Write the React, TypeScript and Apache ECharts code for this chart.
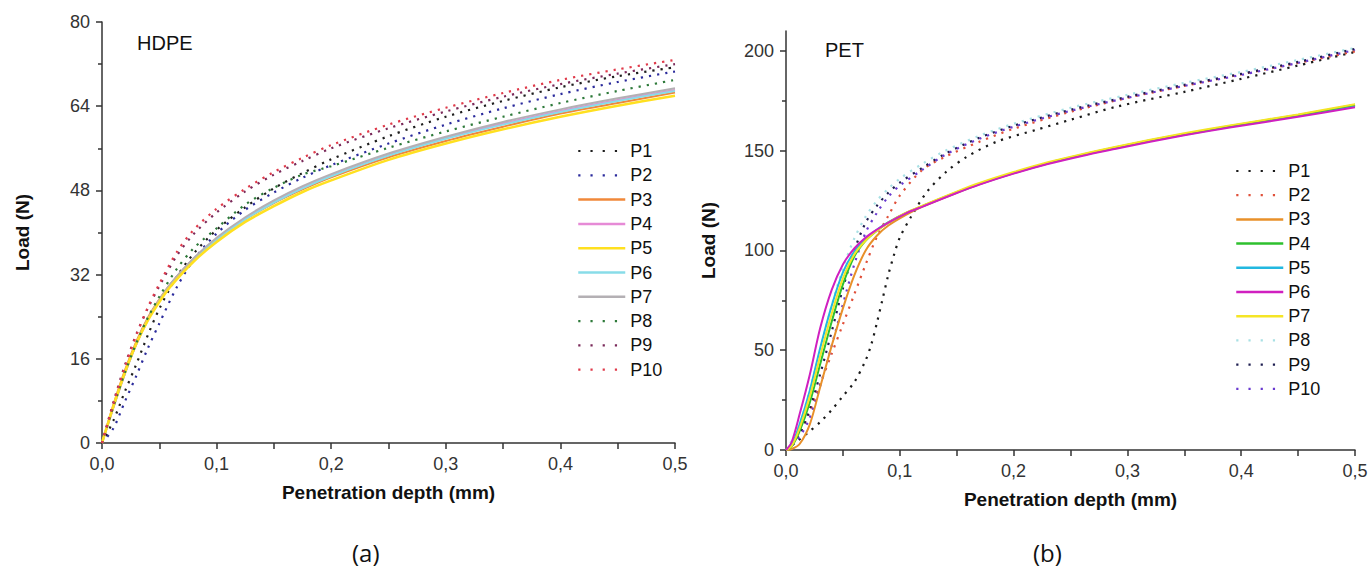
import React, { useEffect, useRef } from 'react';
import * as echarts from 'echarts';

// ---------- HDPE (a) ----------
const hdpeXSolid = [0, 0.01, 0.02, 0.03, 0.04, 0.05, 0.06, 0.08, 0.1, 0.125, 0.15, 0.175, 0.2, 0.25, 0.3, 0.35, 0.4, 0.45, 0.5];
const hdpeXDot = [0, 0.01, 0.02, 0.03, 0.04, 0.05, 0.065, 0.08, 0.1, 0.125, 0.15, 0.175, 0.2, 0.25, 0.3, 0.35, 0.4, 0.45, 0.5];
const hdpeP1 = [0, 4.3, 9.8, 15, 20.5, 25.5, 31.5, 36, 40.5, 44.8, 48.4, 51.3, 53.9, 58.3, 62, 65, 67.6, 69.7, 71.4];
const hdpeP2 = [0, 2.8, 7.9, 12.8, 18, 22.7, 29.5, 34.8, 39.8, 44.3, 47.6, 50.4, 52.8, 56.9, 60.5, 63.6, 66.3, 68.6, 70.6];
const hdpeP3 = [0, 7.3, 13.8, 19.3, 23.8, 27.3, 30.3, 35, 38.7, 42.5, 45.6, 48.2, 50.5, 54.3, 57.4, 60.1, 62.6, 64.6, 66.6];
const hdpeP4 = [0, 6.8, 13.2, 18.8, 23.4, 27, 30.2, 35, 38.8, 42.6, 45.8, 48.5, 50.8, 54.7, 57.9, 60.7, 63.1, 65.2, 67.1];
const hdpeP5 = [0, 7, 13.4, 18.9, 23.3, 26.8, 29.8, 34.5, 38.2, 42, 45, 47.7, 49.9, 53.8, 56.9, 59.6, 62, 64.1, 66];
const hdpeP6 = [0, 6.9, 13.3, 18.9, 23.5, 27.1, 30.2, 34.9, 38.7, 42.5, 45.7, 48.4, 50.7, 54.6, 57.8, 60.5, 62.9, 65, 66.9];
const hdpeP7 = [0, 6.8, 13.2, 18.8, 23.4, 27.1, 30.3, 35.1, 39, 42.9, 46.1, 48.8, 51.1, 55, 58.2, 61, 63.4, 65.5, 67.4];
const hdpeP8 = [0, 7, 13.4, 19, 23.8, 27.8, 33, 37, 40.8, 45.3, 48.5, 51, 52.6, 56.1, 59.2, 62, 64.6, 66.9, 69];
const hdpeP9 = [0, 7.8, 14.8, 20.7, 25.6, 29.8, 35.5, 39.7, 43.8, 47.8, 51, 53.6, 56, 59.8, 63, 65.8, 68.2, 70.2, 72.0];
const hdpeP10 = [0, 7.5, 14.5, 20.5, 25.8, 30.2, 36.2, 40.5, 44.5, 48.3, 51.5, 54.2, 56.6, 60.5, 63.7, 66.5, 69, 71, 72.8];

// ---------- PET (b) ----------
const petXSolid = [0, 0.005, 0.012, 0.021, 0.03, 0.04, 0.05, 0.06, 0.07, 0.08, 0.09, 0.105, 0.12, 0.15, 0.17, 0.2, 0.23, 0.26, 0.29, 0.32, 0.35, 0.39, 0.45, 0.5];
const petP3 = [0, 0.5, 3, 13, 31.5, 52, 71, 87.5, 100, 107.5, 112.5, 117.7, 122, 128.9, 133.2, 138.7, 143.6, 147.7, 151.4, 154.9, 158.1, 162.1, 167.6, 172.8];
const petP4 = [0, 1.8, 9.5, 24, 43, 64, 83, 97, 105, 110, 114, 118.6, 122.3, 129.2, 133.5, 139, 143.9, 148, 151.7, 155.2, 158.4, 162.4, 167.9, 173];
const petP5 = [0, 2.5, 13, 30, 51, 72, 89, 99.5, 106, 110.5, 114.2, 118.7, 122.2, 129, 133.3, 138.8, 143.6, 147.7, 151.3, 154.8, 158, 162, 167.4, 172.4];
const petP6 = [0, 4, 18, 38, 61, 80, 93, 101, 106.5, 110.5, 114, 118.5, 122, 128.8, 133, 138.5, 143.3, 147.4, 151, 154.5, 157.7, 161.6, 167, 171.8];
const petP7 = [0, 2, 11, 27, 47, 68, 86, 98, 105, 110, 114, 118.8, 122.5, 129.5, 133.8, 139.3, 144.2, 148.3, 152, 155.5, 158.7, 162.7, 168.2, 173.3];
const petXDot = [0, 0.01, 0.02, 0.03, 0.04, 0.05, 0.06, 0.07, 0.08, 0.09, 0.1, 0.12, 0.14, 0.17, 0.2, 0.25, 0.3, 0.35, 0.4, 0.45, 0.5];
const petP2 = [0, 6, 18, 33, 48, 63, 78, 93, 107, 117.5, 127.5, 140.5, 147, 154.5, 161, 169.5, 176.5, 182.5, 188.3, 194, 199.8];
const petP8 = [0, 10, 28, 50, 72, 91, 106, 117, 125, 131, 136, 143.5, 150, 157.5, 163.5, 171.5, 178, 184, 189.5, 195.5, 201.5];
const petP9 = [0, 6, 19, 38, 59, 81, 100, 114, 122.5, 129, 134, 141.5, 148.5, 156.5, 162.5, 170.5, 177, 183, 188.5, 194.5, 201];
const petP10 = [0, 5, 15, 32, 52, 73, 93, 109, 119, 127, 132.5, 140.5, 148, 156, 162, 170, 176.5, 182.5, 188, 194, 200.5];
const petXP1 = [0, 0.01, 0.02, 0.03, 0.04, 0.05, 0.06, 0.07, 0.075, 0.08, 0.085, 0.09, 0.095, 0.1, 0.11, 0.124, 0.141, 0.159, 0.185, 0.22, 0.25, 0.29, 0.35, 0.4, 0.45, 0.5];
const petP1 = [0, 4.5, 9, 14, 20, 27, 34, 45, 53, 64, 76, 88, 98, 106.5, 117, 129.5, 139.5, 147, 154.5, 160.5, 165.5, 172, 179.5, 186, 192.7, 199.5];
const petYTicks = [0, 50, 100, 150, 200];
const petYMinor = [25, 75, 125, 175];

const names = ['P1', 'P2', 'P3', 'P4', 'P5', 'P6', 'P7', 'P8', 'P9', 'P10'];

type Spec = { name: string; xs: number[]; ys: number[]; color: string; dotted: boolean; width?: number };

const hdpeSpecs: Spec[] = [
  { name: 'P1', xs: hdpeXDot, ys: hdpeP1, color: '#1e1e1e', dotted: true },
  { name: 'P2', xs: hdpeXDot, ys: hdpeP2, color: '#2b2b9c', dotted: true },
  { name: 'P3', xs: hdpeXSolid, ys: hdpeP3, color: '#f0883a', dotted: false },
  { name: 'P4', xs: hdpeXSolid, ys: hdpeP4, color: '#e68ad6', dotted: false },
  { name: 'P6', xs: hdpeXSolid, ys: hdpeP6, color: '#88dce8', dotted: false },
  { name: 'P7', xs: hdpeXSolid, ys: hdpeP7, color: '#b4b0b4', dotted: false },
  { name: 'P5', xs: hdpeXSolid, ys: hdpeP5, color: '#ffe020', dotted: false, width: 2.6 },
  { name: 'P8', xs: hdpeXDot, ys: hdpeP8, color: '#2e7a3a', dotted: true },
  { name: 'P9', xs: hdpeXDot, ys: hdpeP9, color: '#7a2a5a', dotted: true },
  { name: 'P10', xs: hdpeXDot, ys: hdpeP10, color: '#e03a4a', dotted: true },
];

const petSpecs: Spec[] = [
  { name: 'P1', xs: petXP1, ys: petP1, color: '#1a1a1a', dotted: true },
  { name: 'P2', xs: petXDot, ys: petP2, color: '#e0503a', dotted: true },
  { name: 'P8', xs: petXDot, ys: petP8, color: '#a8e0e4', dotted: true },
  { name: 'P9', xs: petXDot, ys: petP9, color: '#1e1e50', dotted: true },
  { name: 'P10', xs: petXDot, ys: petP10, color: '#6a3ad0', dotted: true },
  { name: 'P3', xs: petXSolid, ys: petP3, color: '#e8902a', dotted: false },
  { name: 'P5', xs: petXSolid, ys: petP5, color: '#22b8e0', dotted: false },
  { name: 'P4', xs: petXSolid, ys: petP4, color: '#2ec02e', dotted: false },
  { name: 'P7', xs: petXSolid, ys: petP7, color: '#f5e526', dotted: false },
  { name: 'P6', xs: petXSolid, ys: petP6, color: '#d020c0', dotted: false },
];

const FONT = "'Liberation Sans', Arial, sans-serif";
const AX = '#333';

function buildSeries(specs: Spec[]) {
  return specs.map((s) => ({
    type: 'line',
    name: s.name,
    data: s.xs.map((x, i) => [x, s.ys[i]]),
    symbol: 'none',
    smooth: 0.3,
    lineStyle: s.dotted
      ? { color: s.color, width: 2.2, type: [2.2, 6], cap: 'butt' }
      : { color: s.color, width: s.width ?? 2, type: 'solid' },
    itemStyle: { color: s.color },
  }));
}

const hiddenSymbol = { color: 'rgba(0,0,0,0)', borderColor: 'rgba(0,0,0,0)', borderWidth: 0, opacity: 0 };

function legendData(specs: Spec[]) {
  return names.map((n) => {
    const s = specs.find((p) => p.name === n)!;
    return s.dotted
      ? { name: n, itemStyle: hiddenSymbol, lineStyle: { type: [2.2, 10], width: 2.2, color: s.color, opacity: 1 } }
      : { name: n, itemStyle: hiddenSymbol, lineStyle: { type: 'solid', width: 2.5, color: s.color, opacity: 1 } };
  });
}

const fmtX = (v: number) => v.toFixed(1).replace('.', ',');

function xAxisOpt() {
  return {
    type: 'value',
    min: 0,
    max: 0.5,
    interval: 0.1,
    axisLine: { show: true, onZero: false, lineStyle: { color: AX, width: 1.5 } },
    axisTick: { show: true, length: 6, lineStyle: { color: AX, width: 1.5 } },
    minorTick: { show: true, splitNumber: 2, length: 6, lineStyle: { color: AX, width: 1.5 } },
    splitLine: { show: false },
    minorSplitLine: { show: false },
    axisLabel: { formatter: fmtX, fontSize: 18, color: AX, margin: 12, fontFamily: FONT },
    name: 'Penetration depth (mm)',
    nameLocation: 'middle',
    nameGap: 40,
    nameTextStyle: { fontWeight: 'bold', fontSize: 19, color: '#111', fontFamily: FONT },
  };
}

function Chart({ option, style }: { option: any; style: React.CSSProperties }) {
  const ref = useRef<HTMLDivElement>(null);
  useEffect(() => {
    if (!ref.current) return;
    const chart = echarts.init(ref.current, undefined, { renderer: 'svg' });
    chart.setOption(option);
    return () => chart.dispose();
  }, [option]);
  return <div ref={ref} style={style} />;
}

const hdpeOption = {
  animation: false,
  backgroundColor: 'transparent',
  grid: { left: 102, right: 25, top: 22, bottom: 127, containLabel: false, outerBoundsMode: 'none' },
  xAxis: xAxisOpt(),
  yAxis: {
    type: 'value',
    min: 0,
    max: 80,
    interval: 16,
    axisLine: { show: true, lineStyle: { color: AX, width: 1.5 } },
    axisTick: { show: true, length: 6, lineStyle: { color: AX, width: 1.5 } },
    minorTick: { show: true, splitNumber: 2, length: 4, lineStyle: { color: AX, width: 1.5 } },
    splitLine: { show: false },
    minorSplitLine: { show: false },
    axisLabel: { fontSize: 18, color: AX, margin: 12, fontFamily: FONT },
    name: 'Load (N)',
    nameLocation: 'middle',
    nameGap: 70,
    nameTextStyle: { fontWeight: 'bold', fontSize: 19, color: '#111', fontFamily: FONT },
  },
  legend: {
    orient: 'vertical',
    left: 572,
    top: 137,
    itemWidth: 47,
    itemHeight: 12,
    itemGap: 6.3,
    selectedMode: false,
    data: legendData(hdpeSpecs),
    textStyle: { fontSize: 18, color: '#111', fontFamily: FONT, lineHeight: 18 },
  },
  graphic: [
    { type: 'text', left: 137, top: 33, style: { text: 'HDPE', fontSize: 20, fill: '#111', fontFamily: FONT } },
    { type: 'text', left: 352, top: 540, style: { text: '(a)', fontSize: 24, fill: '#111', fontFamily: "'Open Sans', sans-serif" } },
  ],
  series: buildSeries(hdpeSpecs),
};

const petOption = {
  animation: false,
  backgroundColor: 'transparent',
  grid: { left: 106, right: 15, top: 31, bottom: 120, containLabel: false, outerBoundsMode: 'none' },
  xAxis: xAxisOpt(),
  yAxis: [
    {
      type: 'value',
      min: 0,
      max: 210,
      interval: 50,
      axisLine: { show: true, lineStyle: { color: AX, width: 1.5 } },
      axisTick: { show: true, length: 6, customValues: petYTicks, lineStyle: { color: AX, width: 1.5 } },
      splitLine: { show: false },
      axisLabel: { fontSize: 18, color: AX, margin: 12, fontFamily: FONT, customValues: petYTicks },
      name: 'Load (N)',
      nameLocation: 'middle',
      nameGap: 68,
      nameTextStyle: { fontWeight: 'bold', fontSize: 19, color: '#111', fontFamily: FONT },
    },
    {
      type: 'value',
      min: 0,
      max: 210,
      position: 'left',
      axisLine: { show: false },
      axisLabel: { show: false },
      splitLine: { show: false },
      axisTick: { show: true, length: 4, customValues: petYMinor, lineStyle: { color: AX, width: 1.5 } },
    },
  ],
  legend: {
    orient: 'vertical',
    left: 550,
    top: 157,
    itemWidth: 47,
    itemHeight: 12,
    itemGap: 6.2,
    selectedMode: false,
    data: legendData(petSpecs),
    textStyle: { fontSize: 18, color: '#111', fontFamily: FONT, lineHeight: 18 },
  },
  graphic: [
    { type: 'text', left: 145, top: 40, style: { text: 'PET', fontSize: 20, fill: '#111', fontFamily: FONT } },
    { type: 'text', left: 353, top: 540, style: { text: '(b)', fontSize: 24, fill: '#111', fontFamily: "'Open Sans', sans-serif" } },
  ],
  series: buildSeries(petSpecs),
};

export default function App() {
  return (
    <div style={{ position: 'absolute', left: 0, top: 0, width: 1370, height: 570, background: '#fff' }}>
      <Chart option={hdpeOption} style={{ position: 'absolute', left: 0, top: 0, width: 700, height: 570 }} />
      <Chart option={petOption} style={{ position: 'absolute', left: 680, top: 0, width: 690, height: 570 }} />
    </div>
  );
}
